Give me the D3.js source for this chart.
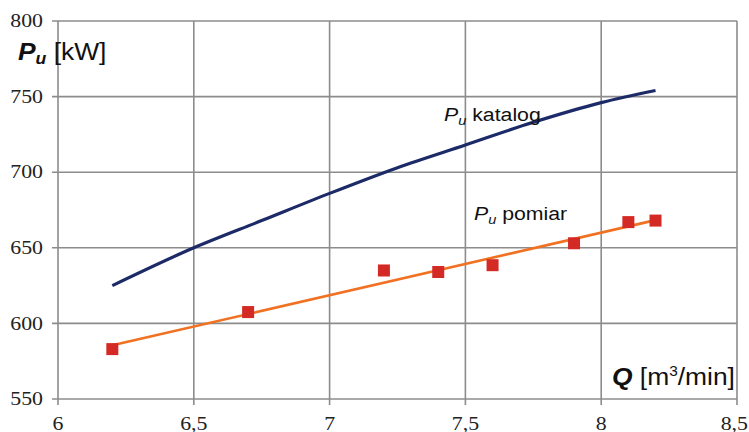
<!DOCTYPE html>
<html><head><meta charset="utf-8">
<script src="https://cdn.jsdelivr.net/npm/d3@7"></script>
<style>body{margin:0;background:#fff}svg{display:block}</style>
</head><body>
<svg id="c" width="749" height="432"></svg>
<script>
const xTicks = [6, 6.5, 7, 7.5, 8, 8.5];
const yTicks = [550, 600, 650, 700, 750, 800];
const katalogQ = [6.2, 6.5, 6.75, 7, 7.25, 7.5, 7.75, 8, 8.2];
const katalogP = [625, 650, 668, 686, 703, 718, 733, 746, 754];
const pomiarQ = [6.2, 6.7, 7.2, 7.4, 7.6, 7.9, 8.1, 8.2];
const pomiarP = [583, 607.5, 635, 634, 638.5, 653, 667, 668];
const trendQ = [6.2, 8.2];
const trendP = [585.5, 668.3];

const W = 749;
const svg = d3.select("#c");
const x = d3.scaleLinear().domain([6, 8.5]).range([58, 737]);
const y = d3.scaleLinear().domain([550, 800]).range([399, 21]);
const grid = "#8c8c8c";
const fmt = d => String(d).replace(".", ",");
const SX = 1.12;

// grid
svg.append("g").selectAll("line").data(xTicks).join("line")
  .attr("x1", d => x(d)).attr("x2", d => x(d)).attr("y1", y(800)).attr("y2", y(550) + 6)
  .attr("stroke", grid).attr("stroke-width", 1.6);
svg.append("g").selectAll("line").data(yTicks).join("line")
  .attr("x1", x(6) - 6).attr("x2", x(8.5)).attr("y1", d => y(d)).attr("y2", d => y(d))
  .attr("stroke", grid).attr("stroke-width", 1.6);

// tick labels
svg.append("g").selectAll("g").data(yTicks).join("g")
  .attr("transform", d => `translate(43,${y(d)}) scale(1.15,1)`)
  .append("text").attr("dy", "0.33em").attr("text-anchor", "end")
  .attr("font-family", "Liberation Serif").attr("font-size", 19).attr("fill", "#222").text(d => d);
const xtl = svg.append("g").selectAll("g").data(xTicks).join("g")
  .attr("transform", d => `translate(${x(d)},429.5) scale(1.15,1)`);
xtl.append("text").attr("text-anchor", "middle")
  .attr("font-family", "Liberation Serif").attr("font-size", 19).attr("fill", "#222").text(fmt);
// keep the last label inside the picture
xtl.each(function(d) {
  const half = this.getBBox().width * 1.15 / 2;
  const cx = Math.min(x(d), W - 1 - half);
  d3.select(this).attr("transform", `translate(${cx},429.5) scale(1.15,1)`);
});

// katalog curve
const kData = katalogQ.map((q, i) => [q, katalogP[i]]);
svg.append("path").datum(kData)
  .attr("d", d3.line().x(d => x(d[0])).y(d => y(d[1])).curve(d3.curveMonotoneX))
  .attr("fill", "none").attr("stroke", "#1c2a68").attr("stroke-width", 3.2);

// trend line
const tData = trendQ.map((q, i) => [q, trendP[i]]);
svg.append("path").datum(tData)
  .attr("d", d3.line().x(d => x(d[0])).y(d => y(d[1])))
  .attr("fill", "none").attr("stroke", "#f07122").attr("stroke-width", 2.6);

// markers
const pData = pomiarQ.map((q, i) => [q, pomiarP[i]]);
svg.append("g").selectAll("rect").data(pData).join("rect")
  .attr("x", d => x(d[0]) - 6).attr("y", d => y(d[1]) - 6).attr("width", 12).attr("height", 12)
  .attr("fill", "#d42a26");

// labels
const sans = "Liberation Sans";
function stretched(px, py, sx) {
  return svg.append("g").attr("transform", `translate(${px},${py}) scale(${sx},1)`)
    .append("text").attr("font-family", sans).attr("fill", "#111");
}
const yl = stretched(18, 60, 1.1);
yl.append("tspan").attr("font-weight", "bold").attr("font-style", "italic").attr("font-size", 24).text("P");
yl.append("tspan").attr("font-weight", "bold").attr("font-style", "italic").attr("font-size", 16).attr("dy", 4).text("u");
yl.append("tspan").attr("font-size", 24).attr("dy", -4).text(" [kW]");

const xl = stretched(612, 385, 1.1);
xl.append("tspan").attr("font-weight", "bold").attr("font-style", "italic").attr("font-size", 24).text("Q");
xl.append("tspan").attr("font-size", 24).text(" [m");
xl.append("tspan").attr("font-size", 14).attr("dy", -9).text("3");
xl.append("tspan").attr("font-size", 24).attr("dy", 9).text("/min]");

function seriesLabel(px, py, word) {
  const t = stretched(px, py, SX);
  t.append("tspan").attr("font-style", "italic").attr("font-size", 19).text("P");
  t.append("tspan").attr("font-style", "italic").attr("font-size", 13).attr("dy", 4).text("u");
  t.append("tspan").attr("font-size", 19).attr("dy", -4).text(" " + word);
}
seriesLabel(444, 121, "katalog");
seriesLabel(474, 220, "pomiar");
</script>
</body></html>
